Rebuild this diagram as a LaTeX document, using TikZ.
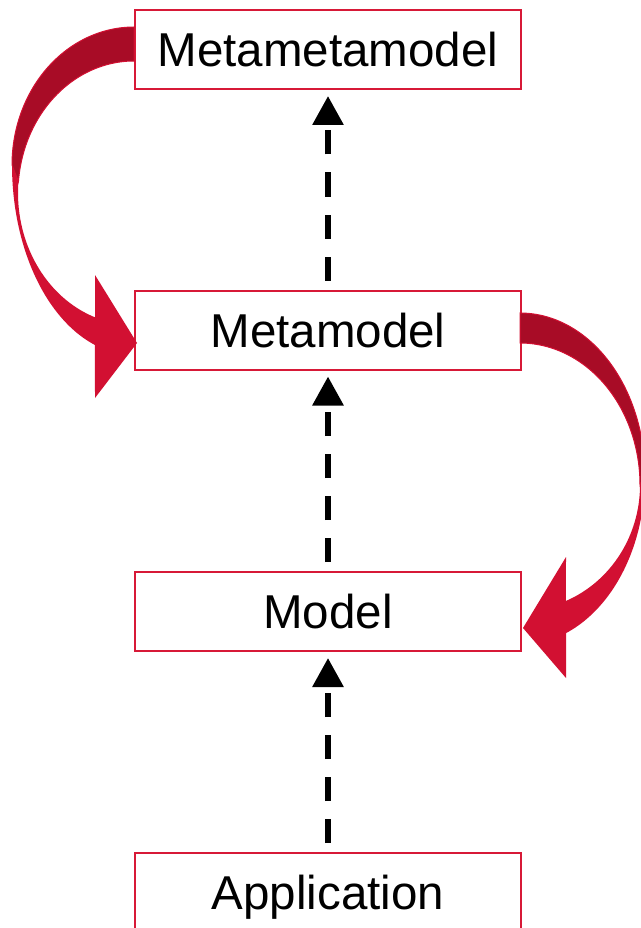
\documentclass[tikz,border=0pt]{standalone}
\usepackage{fontspec}
\setmainfont{Liberation Sans}
\usetikzlibrary{arrows.meta}
\definecolor{boxred}{RGB}{215,25,55}
\definecolor{arrowdark}{RGB}{168,12,38}
\definecolor{arrowred}{RGB}{210,16,50}
\begin{document}
\begin{tikzpicture}[x=1pt,y=-1pt,
  level/.style={draw=boxred, line width=2pt, fill=white, outer sep=0pt, inner sep=0pt,
    minimum width=386pt, minimum height=79pt, text height=34pt, text depth=0pt,
    font=\fontsize{47.5}{50}\selectfont},
  instanceof/.style={line width=6pt, dash pattern=on 24pt off 18pt, dash phase=32pt,
    -{Triangle[length=29pt,width=30pt]}, shorten >=7pt},
  bandback/.style={fill=arrowdark, draw=arrowred, line width=1pt},
  bandfront/.style={fill=arrowred}]
\useasboundingbox (0,0) rectangle (640,928);

% the four modelling levels
\node[level] (mmm) at (328,49.5) {Metametamodel};
\node[level] (mm)  at (328,330)  {Metamodel};
\node[level] (m)   at (328,611.5) {Model};
\node[level] (app) at (328,892.5) {Application};

% instance-of relations
\draw[instanceof] (mm.north)  -- (mmm.south);
\draw[instanceof] (m.north)   -- (mm.south);
\draw[instanceof] (app.north) -- (m.south);

% curved arrow: metametamodel defines the metamodel
\begin{scope}[shift={(mmm.west)}]
  \path[bandfront]
    plot[domain=180:108.65, samples=50] ({-1+122*cos(\x)}, {115.5+190*sin(\x)})
    -- (-40,348.5) -- (2,293.5) -- (-40,225.5)
    -- plot[domain=109.6:185, samples=50] ({-1+116*cos(\x)}, {143.5+132*sin(\x)})
    -- cycle;
  \path[bandback]
    plot[domain=270:180, samples=50] ({-1+122*cos(\x)}, {115.5+138*sin(\x)})
    -- plot[domain=185:270, samples=50] ({-1+116*cos(\x)}, {143.5+132*sin(\x)})
    -- cycle;
\end{scope}

% curved arrow: metamodel defines the model
\begin{scope}[shift={(mm.east)}]
  \path[bandfront]
    plot[domain=360:428.4, samples=50] ({-1+125*cos(\x)}, {146+169*sin(\x)})
    -- (45,348) -- (2,298) -- (45,227)
    -- plot[domain=427.5:360, samples=50] ({-1+120*cos(\x)}, {155+125.5*sin(\x)})
    -- cycle;
  \path[bandback]
    plot[domain=270:360, samples=50] ({-1+125*cos(\x)}, {146+163*sin(\x)})
    -- plot[domain=360:270, samples=50] ({-1+120*cos(\x)}, {155+142*sin(\x)})
    -- cycle;
\end{scope}
\end{tikzpicture}
\end{document}
